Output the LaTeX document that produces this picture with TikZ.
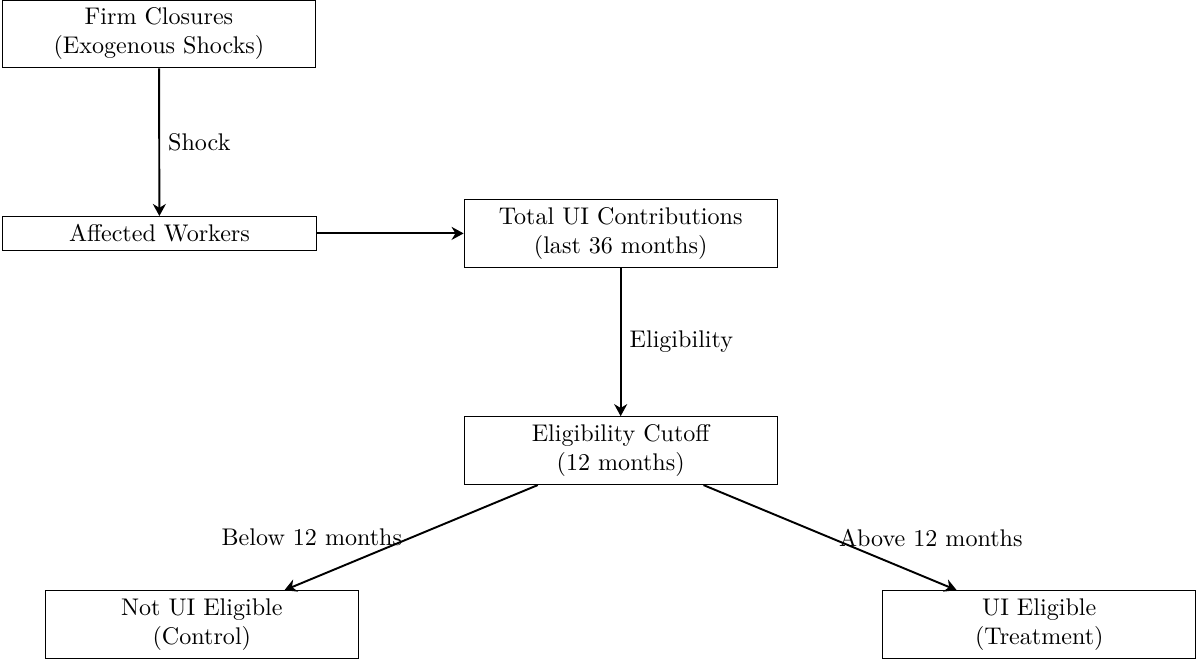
\documentclass[tikz,border=0pt]{standalone}
\usetikzlibrary{arrows.meta}
\begin{document}
\begin{tikzpicture}[x=1pt,y=1pt,
  box/.style={draw, rectangle, align=center, minimum width=130pt, inner sep=3.33pt},
  conn/.style={-{Stealth[length=5pt,width=5.4pt,inset=1.6pt]}, thick}]
\useasboundingbox (0,0) rectangle (497,-274);
\node[box] (firm) at (66,-14.1) {Firm Closures\\(Exogenous Shocks)};
\node[box] (aff) at (66.2,-96.9) {Affected Workers};
\node[box] (tot) at (257.7,-96.9) {Total UI Contributions\\(last 36 months)};
\node[box] (cut) at (257.7,-187.1) {Eligibility Cutoff\\(12 months)};
\node[box] (not) at (83.8,-259.3) {Not UI Eligible\\(Control)};
\node[box] (ui) at (431.5,-259.3) {UI Eligible\\(Treatment)};
\draw[conn] (firm) -- node[right] {Shock} (aff);
\draw[conn] (aff) -- (tot);
\draw[conn] (tot) -- node[right] {Eligibility} (cut);
\draw[conn] (cut) -- node[left] {Below 12 months} (not);
\draw[conn] (cut) -- node[right] {Above 12 months} (ui);
\end{tikzpicture}
\end{document}
